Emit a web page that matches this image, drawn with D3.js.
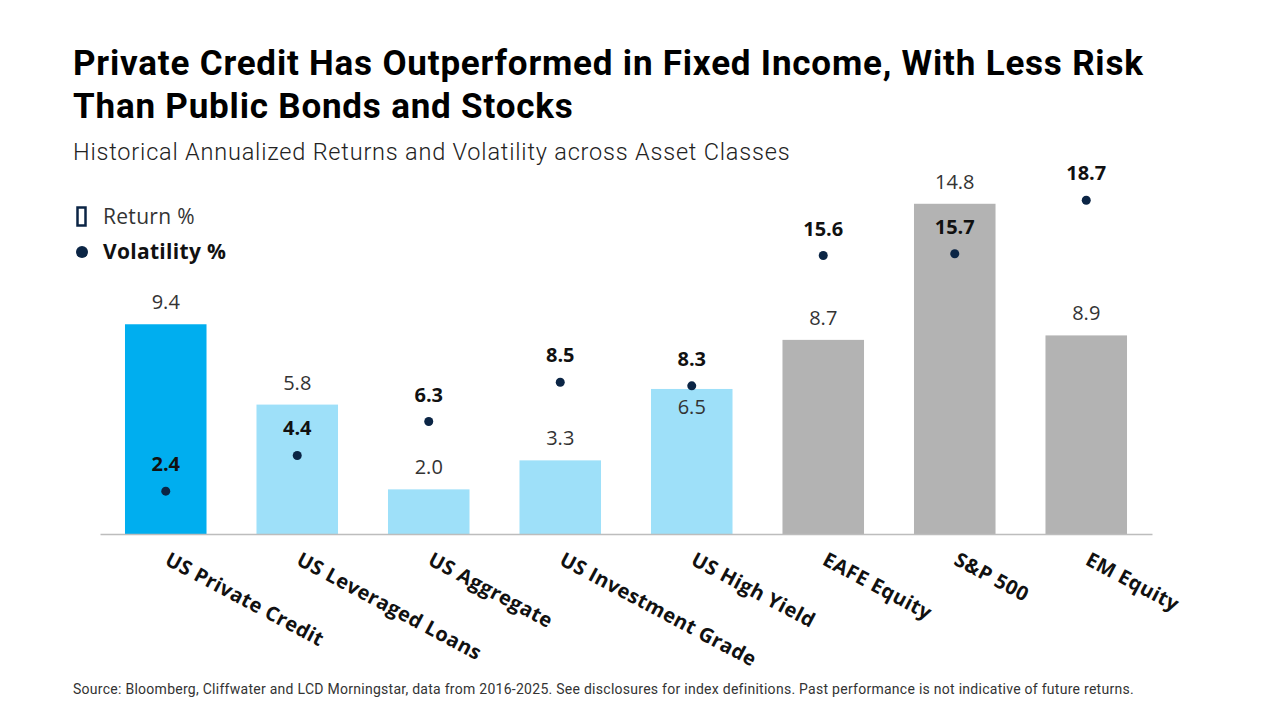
<!DOCTYPE html>
<html>
<head>
<meta charset="utf-8">
<script src="https://cdn.jsdelivr.net/npm/d3@7"></script>
<style>
  body { margin: 0; background: #fff; }
  svg { display: block; }
</style>
</head>
<body>
<div id="chart"></div>
<script>
const categories = [
    'US Private Credit',
    'US Leveraged Loans',
    'US Aggregate',
    'US Investment Grade',
    'US High Yield',
    'EAFE Equity',
    'S&P 500',
    'EM Equity'
];
const returns = [9.4, 5.8, 2.0, 3.3, 6.5, 8.7, 14.8, 8.9];
const volatility = [2.4, 4.4, 6.3, 8.5, 8.3, 15.6, 15.7, 18.7];
const groups = ['private', 'fixed', 'fixed', 'fixed', 'fixed', 'equity', 'equity', 'equity'];

const width = 1280;
const height = 720;
const baseline = 534;
const plotTop = 177;

const colors = { private: '#00AEEF', fixed: '#9EE0F9', equity: '#B3B3B3' };
const navy = '#0B2545';

const svg = d3.select('#chart')
    .append('svg')
    .attr('width', width)
    .attr('height', height);

// title + subtitle
svg.append('text')
    .attr('x', 73).attr('y', 75)
    .attr('font-family', 'Roboto')
    .attr('font-weight', 700)
    .attr('font-size', 35)
    .attr('letter-spacing', 0.8)
    .attr('fill', '#000')
    .text('Private Credit Has Outperformed in Fixed Income, With Less Risk');
svg.append('text')
    .attr('x', 73).attr('y', 118)
    .attr('font-family', 'Roboto')
    .attr('font-weight', 700)
    .attr('font-size', 35)
    .attr('letter-spacing', 0.8)
    .attr('fill', '#000')
    .text('Than Public Bonds and Stocks');
svg.append('text')
    .attr('x', 73).attr('y', 160)
    .attr('font-family', 'Roboto')
    .attr('font-weight', 300)
    .attr('font-size', 23.5)
    .attr('letter-spacing', 0.8)
    .attr('fill', '#222')
    .text('Historical Annualized Returns and Volatility across Asset Classes');

// scales: bars and dots each have their own axis range
const xScale = d3.scaleBand()
    .domain(categories)
    .range([100, 1152])
    .paddingInner(0.38)
    .paddingOuter(0.19);

const yReturn = d3.scaleLinear()
    .domain([0, 16])
    .range([baseline, plotTop]);

const yVol = d3.scaleLinear()
    .domain([0, 20])
    .range([baseline, plotTop]);

const rows = categories.map((c, i) => ({
    cat: c, ret: returns[i], vol: volatility[i], group: groups[i]
}));

// bars
svg.append('g').selectAll('rect')
    .data(rows)
    .enter()
    .append('rect')
    .attr('x', (d) => xScale(d.cat))
    .attr('y', (d) => yReturn(d.ret))
    .attr('width', xScale.bandwidth())
    .attr('height', (d) => baseline - yReturn(d.ret))
    .attr('fill', (d) => colors[d.group]);

// x axis line
const xAxis = d3.axisBottom(xScale).tickSize(0).tickFormat('');
const axisG = svg.append('g')
    .attr('transform', `translate(0, ${baseline})`)
    .call(xAxis);
axisG.select('.domain').attr('stroke', '#BDBDBD').attr('stroke-width', 1.5);

// rotated category labels
svg.append('g').selectAll('text')
    .data(rows)
    .enter()
    .append('text')
    .attr('transform', (d) => `translate(${xScale(d.cat) + xScale.bandwidth() / 2 - 2}, 564) rotate(28)`)
    .attr('font-family', 'Open Sans')
    .attr('font-weight', 700)
    .attr('font-size', 20)
    .attr('letter-spacing', 0.4)
    .attr('fill', '#111')
    .text((d) => d.cat);

// return labels: above bar, or inside when the dot sits on the bar top
svg.append('g').selectAll('text')
    .data(rows)
    .enter()
    .append('text')
    .attr('x', (d) => xScale(d.cat) + xScale.bandwidth() / 2)
    .attr('y', (d) => {
        const top = yReturn(d.ret);
        const clash = Math.abs(yVol(d.vol) - top) < 12;
        return clash ? top + 25 : top - 15;
    })
    .attr('text-anchor', 'middle')
    .attr('font-family', 'Open Sans')
    .attr('font-size', 20)
    .attr('fill', '#333')
    .text((d) => d.ret.toFixed(1));

// volatility dots
svg.append('g').selectAll('circle')
    .data(rows)
    .enter()
    .append('circle')
    .attr('cx', (d) => xScale(d.cat) + xScale.bandwidth() / 2)
    .attr('cy', (d) => yVol(d.vol))
    .attr('r', 4.5)
    .attr('fill', navy);

svg.append('g').selectAll('text')
    .data(rows)
    .enter()
    .append('text')
    .attr('x', (d) => xScale(d.cat) + xScale.bandwidth() / 2)
    .attr('y', (d) => yVol(d.vol) - 20)
    .attr('text-anchor', 'middle')
    .attr('font-family', 'Open Sans')
    .attr('font-weight', 700)
    .attr('font-size', 20)
    .attr('fill', '#111')
    .text((d) => d.vol.toFixed(1));

// legend
const legend = svg.append('g');
legend.append('rect')
    .attr('x', 77.5).attr('y', 207.5)
    .attr('width', 8).attr('height', 18)
    .attr('fill', 'none')
    .attr('stroke', navy)
    .attr('stroke-width', 2.5);
legend.append('text')
    .attr('x', 103).attr('y', 224)
    .attr('font-family', 'Open Sans')
    .attr('font-size', 21)
    .attr('letter-spacing', 0.3)
    .attr('fill', '#333')
    .text('Return %');
legend.append('circle')
    .attr('cx', 82).attr('cy', 252)
    .attr('r', 6)
    .attr('fill', navy);
legend.append('text')
    .attr('x', 103).attr('y', 259)
    .attr('font-family', 'Open Sans')
    .attr('font-weight', 700)
    .attr('font-size', 21)
    .attr('letter-spacing', 0.3)
    .attr('fill', '#111')
    .text('Volatility %');

// footnote
svg.append('text')
    .attr('x', 73).attr('y', 694)
    .attr('font-family', 'Roboto')
    .attr('font-size', 14)
    .attr('letter-spacing', 0.27)
    .attr('fill', '#333')
    .text('Source: Bloomberg, Cliffwater and LCD Morningstar, data from 2016-2025. See disclosures for index definitions. Past performance is not indicative of future returns.');
</script>
</body>
</html>
